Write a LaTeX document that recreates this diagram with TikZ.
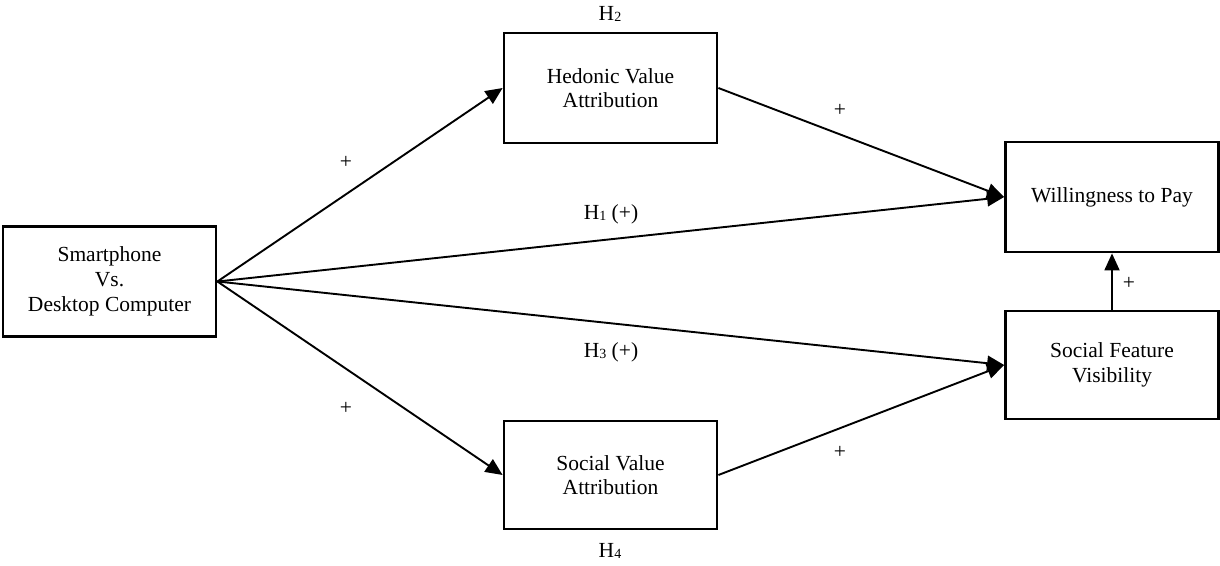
\documentclass[tikz,border=0pt]{standalone}
\usepackage{fontspec}
\setmainfont{Liberation Serif}
\usetikzlibrary{arrows.meta}
\newcommand{\subdig}[1]{{\fontsize{14}{14}\selectfont\raisebox{-1.5pt}{#1}}}
\begin{document}
\begin{tikzpicture}[x=1pt,y=-1pt,
  box/.style={draw,line width=2.8pt,minimum width=213pt,minimum height=110pt,align=center,inner sep=0pt,font=\fontsize{21.5}{24.7}\selectfont},
  conn/.style={line width=1.9pt,-{Triangle[length=17pt,width=15pt]}},
  lab/.style={font=\fontsize{21.5}{24.7}\selectfont,inner sep=0pt}]
\useasboundingbox (0,0) rectangle (1220,565);
\node[box] (sm) at (109.5,281.5) {Smartphone\\Vs.\\Desktop Computer};
\node[box] (hed) at (610.5,88) {Hedonic Value\\Attribution};
\node[box] (wtp) at (1112,197) {Willingness to Pay};
\node[box,minimum height=108pt] (sfv) at (1112,365) {Social Feature\\Visibility};
\node[box,minimum height=108pt] (sva) at (610.5,475) {Social Value\\Attribution};
\draw[conn] (sm.east) -- (hed.west);
\draw[conn] (sm.east) -- (wtp.west);
\draw[conn] (sm.east) -- (sfv.west);
\draw[conn] (sm.east) -- (sva.west);
\draw[conn] (hed.east) -- (wtp.west);
\draw[conn] (sva.east) -- (sfv.west);
\draw[conn] (sfv.north) -- (wtp.south);
\node[lab] (h2) at (610,14) {H\subdig{2}};
\node[lab] (h4) at (610,551) {H\subdig{4}};
\node[lab] (h1) at (611,214) {H\subdig{1} (+)};
\node[lab] (h3) at (611,352) {H\subdig{3} (+)};
\node[lab] (p1) at (346,162) {+};
\node[lab] (p2) at (346,408) {+};
\node[lab] (p3) at (840,110) {+};
\node[lab] (p4) at (840,452) {+};
\node[lab] (p5) at (1129,283) {+};
\end{tikzpicture}
\end{document}
